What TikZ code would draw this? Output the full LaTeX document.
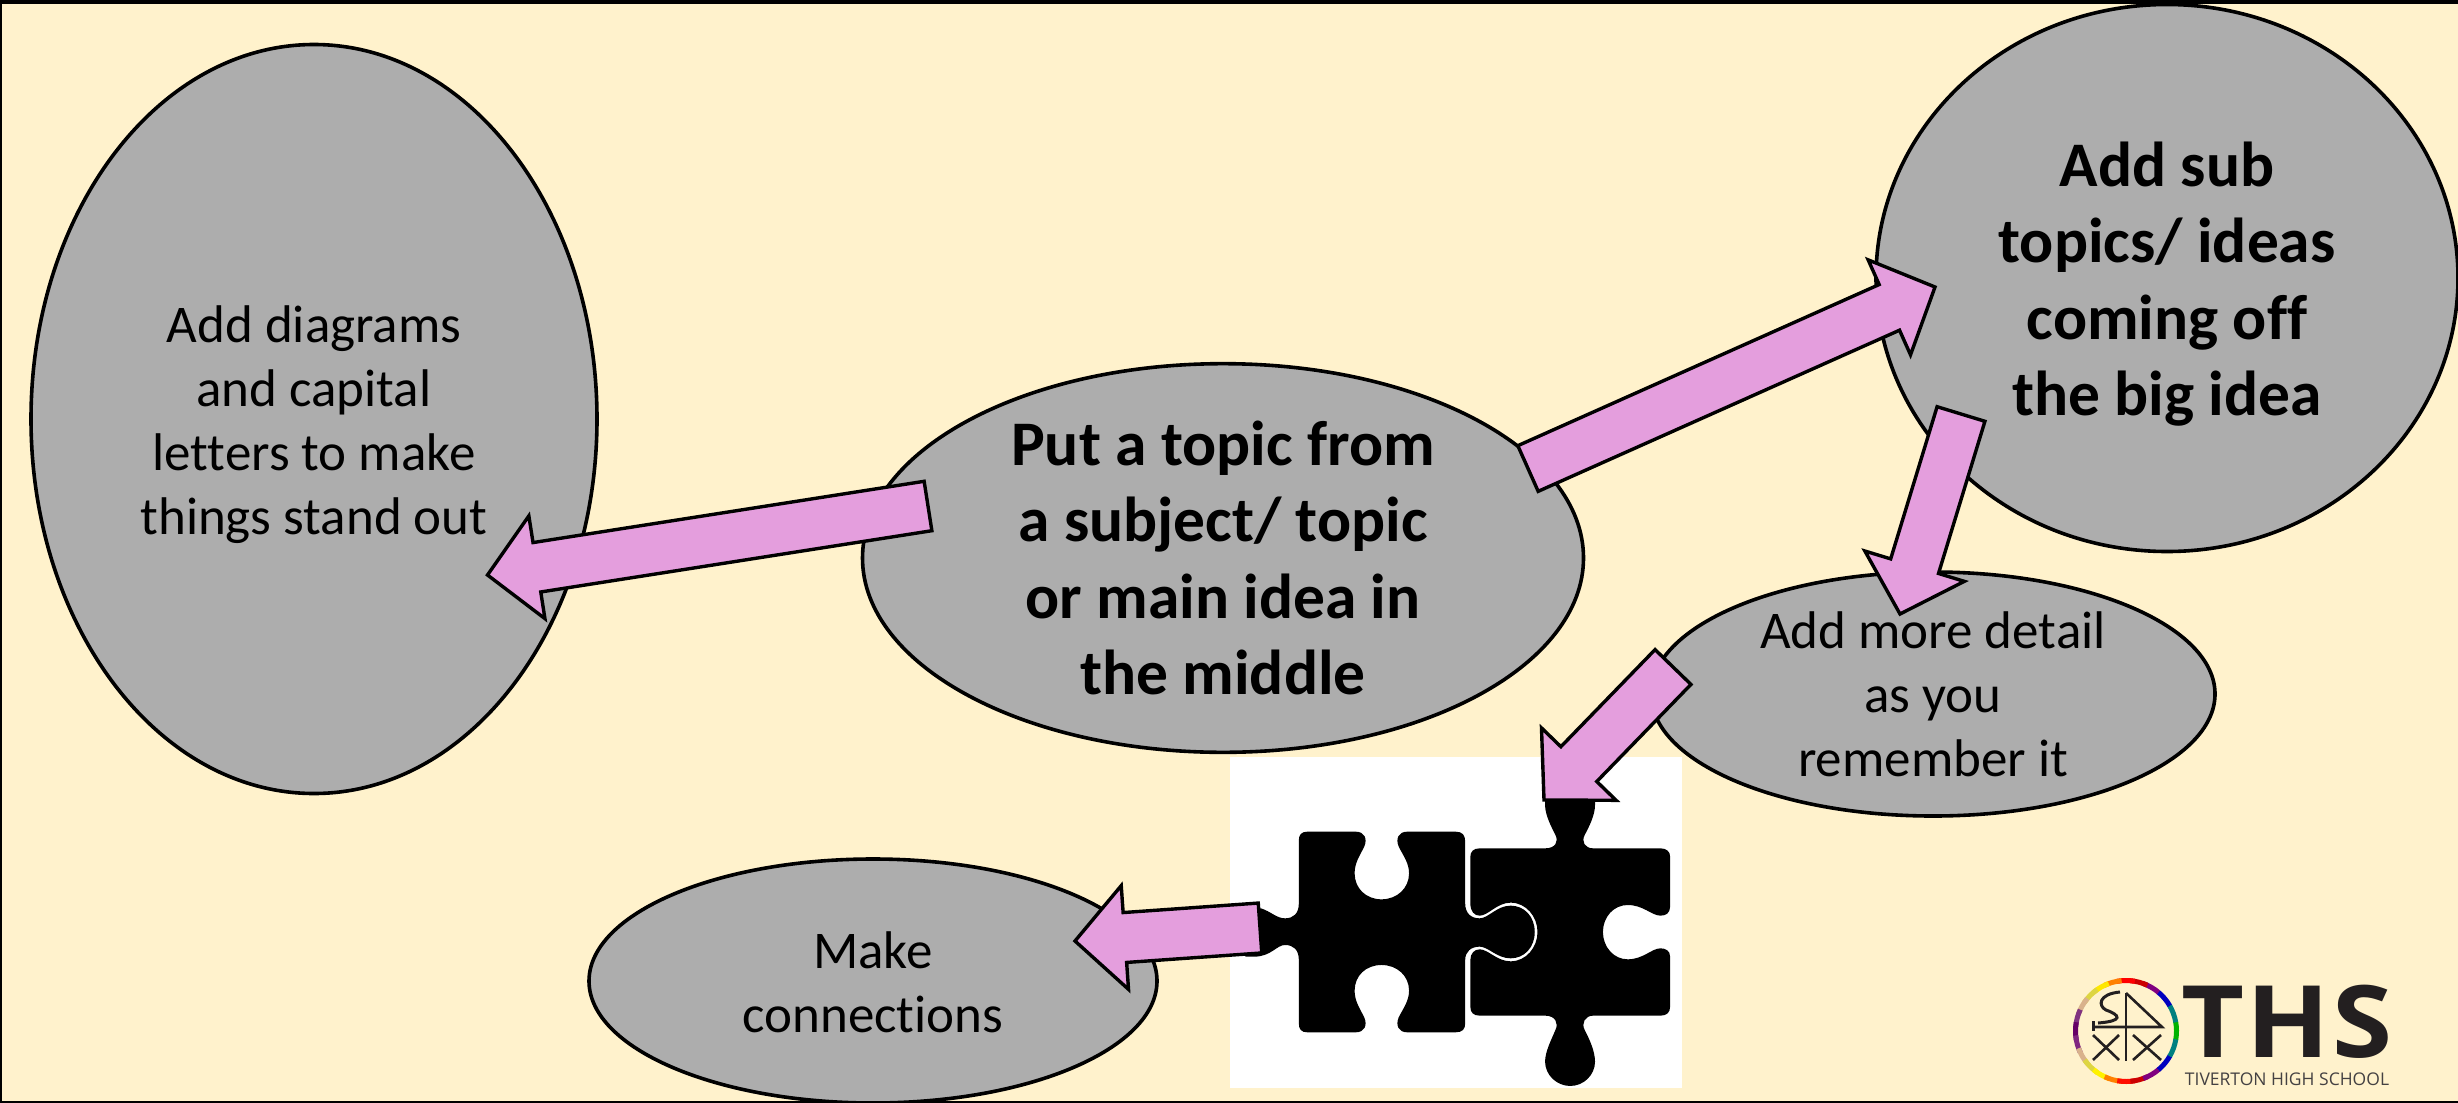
\documentclass[tikz,border=0pt]{standalone}
\usepackage{fontspec}
\setmainfont{Carlito}[Ligatures=NoCommon]
\newfontfamily\logofont{Open Sans}
\newfontfamily\logobig{Open Sans}[FakeStretch=1.09,LetterSpace=2]
\usetikzlibrary{calc,shapes.geometric}
\definecolor{slidebg}{HTML}{FFF2CC}
\definecolor{blobgrey}{HTML}{ADADAD}
\definecolor{arrowpink}{HTML}{E49EDD}
\definecolor{logoink}{HTML}{231F20}
\newcommand{\blockarrow}[2]{
  \draw[myarrow] ($(#1)!25pt!90:(#2)$) -- ($(#2)!50pt!(#1)!25pt!90:(#2)$)
    -- ($(#2)!50pt!(#1)!52pt!90:(#2)$) -- (#2)
    -- ($(#2)!50pt!(#1)!52pt!-90:(#2)$) -- ($(#2)!50pt!(#1)!25pt!-90:(#2)$)
    -- ($(#1)!25pt!-90:(#2)$) -- cycle;
}
\newcommand{\topgap}[2]{\raisebox{0pt}[\dimexpr\height+#1\relax]{#2}}
\begin{document}
\begin{tikzpicture}[x=1pt,y=-1pt]
  \tikzset{
    myblob/.style={
      ellipse,
      draw=black,
      fill=blobgrey,
      line width=3.6pt,
      inner sep=0pt,
      align=center
    },
    mybig/.style={font=\bfseries\fontsize{63.5}{76.6}\selectfont},
    mysmall/.style={font=\fontsize{53}{64}\selectfont},
    myarrow/.style={draw=black, fill=arrowpink, line width=3.4pt},
    mylogo/.style={draw=logoink, line width=2.6pt}
  }
  \useasboundingbox (0,0) rectangle (2458,1103);
  \fill[slidebg] (0,0) rectangle (2458,1103);

  \node[myblob,mysmall,minimum width=566pt,minimum height=749pt] (Draw) at (314,419)
    {\topgap{12pt}{Add diagrams}\\and capital\\letters to make\\things stand out};
  \node[myblob,mybig,minimum width=721pt,minimum height=388pt] (Main) at (1223,558)
    {Put a topic from\\a subject/ topic\\or main idea in\\the middle};
  \node[myblob,mybig,minimum width=582pt,minimum height=547pt] (Sub) at (2167,278)
    {\topgap{12pt}{Add sub}\\topics/ ideas\\coming off\\the big idea};
  \node[myblob,mysmall,minimum width=564pt,minimum height=244pt] (Detail) at (1933,694)
    {Add more detail\\as you\\remember it};
  \node[myblob,mysmall,minimum width=568pt,minimum height=244pt] (Link) at (873,981)
    {\topgap{3pt}{Make}\\connections};

  % puzzle picture
  \node[fill=white,minimum width=452pt,minimum height=331pt,inner sep=0pt] (Puzzle) at (1456,922.5) {};
  \begin{scope}[shift={(1180,740)},xscale=.3444,yscale=.3333]
    \fill[black] (370,275) -- (510,275)
      .. controls (535,275) and (545,295) .. (535,320)
      .. controls (520,350) and (507,370) .. (507,400)
      .. controls (507,445) and (540,478) .. (585,478)
      .. controls (630,478) and (665,445) .. (665,400)
      .. controls (665,370) and (650,350) .. (635,320)
      .. controls (625,295) and (635,275) .. (660,275)
      -- (800,275) .. controls (820,275) and (828,285) .. (828,305)
      -- (828,490) .. controls (828,520) and (845,535) .. (870,535)
      .. controls (895,535) and (920,497) .. (960,497)
      .. controls (1000,497) and (1030,530) .. (1030,576)
      .. controls (1030,622) and (1000,655) .. (960,655)
      .. controls (920,655) and (895,620) .. (870,620)
      .. controls (845,620) and (828,635) .. (828,660)
      -- (828,850) .. controls (828,868) and (820,877) .. (800,877)
      -- (660,877) .. controls (635,877) and (625,857) .. (635,832)
      .. controls (650,802) and (665,782) .. (665,752)
      .. controls (665,707) and (630,675) .. (585,675)
      .. controls (540,675) and (507,707) .. (507,752)
      .. controls (507,782) and (520,802) .. (535,832)
      .. controls (545,857) and (535,877) .. (510,877)
      -- (370,877) .. controls (352,877) and (345,868) .. (345,850)
      -- (345,660) .. controls (345,630) and (330,615) .. (305,615)
      .. controls (280,615) and (265,650) .. (215,650)
      -- (190,650) -- (190,505) -- (235,505)
      .. controls (265,515) and (280,535) .. (305,535)
      .. controls (330,535) and (345,520) .. (345,490)
      -- (345,300) .. controls (345,285) and (352,275) .. (370,275) -- cycle;
    \fill[black] (870,325) -- (1060,325)
      .. controls (1090,325) and (1100,305) .. (1090,285)
      .. controls (1078,260) and (1060,225) .. (1060,195)
      -- (1060,170) -- (1205,170) -- (1205,195)
      .. controls (1205,225) and (1188,260) .. (1175,285)
      .. controls (1165,305) and (1175,325) .. (1200,325)
      -- (1395,325) .. controls (1413,325) and (1423,335) .. (1423,350)
      -- (1423,500) .. controls (1423,520) and (1410,527) .. (1395,527)
      .. controls (1370,527) and (1345,495) .. (1300,495)
      .. controls (1260,495) and (1228,530) .. (1228,576)
      .. controls (1228,622) and (1260,658) .. (1300,658)
      .. controls (1345,658) and (1370,625) .. (1395,625)
      .. controls (1410,625) and (1423,632) .. (1423,650)
      -- (1423,800) .. controls (1423,818) and (1413,827) .. (1395,827)
      -- (1200,827) .. controls (1175,827) and (1165,850) .. (1175,870)
      .. controls (1190,900) and (1205,935) .. (1205,965)
      .. controls (1205,1005) and (1172,1038) .. (1133,1038)
      .. controls (1094,1038) and (1060,1005) .. (1060,965)
      .. controls (1060,935) and (1078,900) .. (1090,870)
      .. controls (1100,850) and (1090,827) .. (1060,827)
      -- (870,827) .. controls (852,827) and (843,818) .. (843,800)
      -- (843,660) .. controls (843,640) and (855,628) .. (870,628)
      .. controls (895,628) and (920,664) .. (960,664)
      .. controls (1005,664) and (1038,622) .. (1038,576)
      .. controls (1038,530) and (1005,488) .. (960,488)
      .. controls (920,488) and (895,527) .. (870,527)
      .. controls (855,527) and (843,515) .. (843,490)
      -- (843,350) .. controls (843,335) and (852,325) .. (870,325) -- cycle;
  \end{scope}

  % logo
  \foreach \a/\c in {0/green!70!black,20/teal,40/blue!75!black,60/violet,75/red!80!black,
    90/red,105/orange,120/yellow!90!orange,135/yellow!70!gray,150/brown!60,165/violet!60!gray,
    180/violet!80!black,195/violet!70!gray,210/brown!60,225/yellow!70!gray,240/yellow,255/orange,
    270/red!90!orange,285/red!80!black,300/violet,320/blue!75!black,340/teal}
    \draw[\c,line width=5pt] (2126,1031)++(\a-10:50.5pt) arc[start angle=\a-10,end angle=\a+10.5,radius=50.5pt];
  \draw[mylogo] (2126,993) -- (2126,1061);
  \draw[mylogo] (2093,1027) -- (2162,1027) -- (2126,993);
  \draw[mylogo,line width=3pt] (2093,1021) -- (2093,1031);
  \draw[mylogo] (2093,1035) -- (2119,1060);
  \draw[mylogo] (2119,1035) -- (2093,1060);
  \draw[mylogo] (2133,1035) -- (2161,1060);
  \draw[mylogo] (2161,1035) -- (2133,1060);
  \draw[mylogo,line width=3pt] (2120,992) .. controls (2098,994) and (2098,1006) .. (2106,1010)
    .. controls (2120,1015) and (2124,1021) .. (2098,1023);
  \node[inner sep=0pt,text=logoink,font=\logobig\bfseries\fontsize{100}{100}\selectfont] (Ths) at (2287,1022) {THS};
  \node[inner sep=0pt,text=logoink!85,font=\logofont\fontsize{17.5}{17.5}\selectfont] (Name) at (2287,1079) {TIVERTON HIGH SCHOOL};

  % arrows
  \coordinate (a1) at (1528,468.5);
  \coordinate (b1) at (1935,287);
  \coordinate (a2) at (1961,414);
  \coordinate (b2) at (1900,614);
  \coordinate (a3) at (1673,667);
  \coordinate (b3) at (1544,800);
  \coordinate (a4) at (1260,928);
  \coordinate (b4) at (1075,941);
  \coordinate (a5) at (928,506);
  \coordinate (b5) at (487.5,575);
  \blockarrow{a1}{b1}
  \blockarrow{a2}{b2}
  \blockarrow{a3}{b3}
  \blockarrow{a4}{b4}
  \blockarrow{a5}{b5}

  % slide edge
  \fill[black] (0,0) rectangle (2458,3.5);
  \fill[black] (0,0) rectangle (1.5,1103);
  \fill[black] (0,1100.5) rectangle (2458,1103);
\end{tikzpicture}
\end{document}
